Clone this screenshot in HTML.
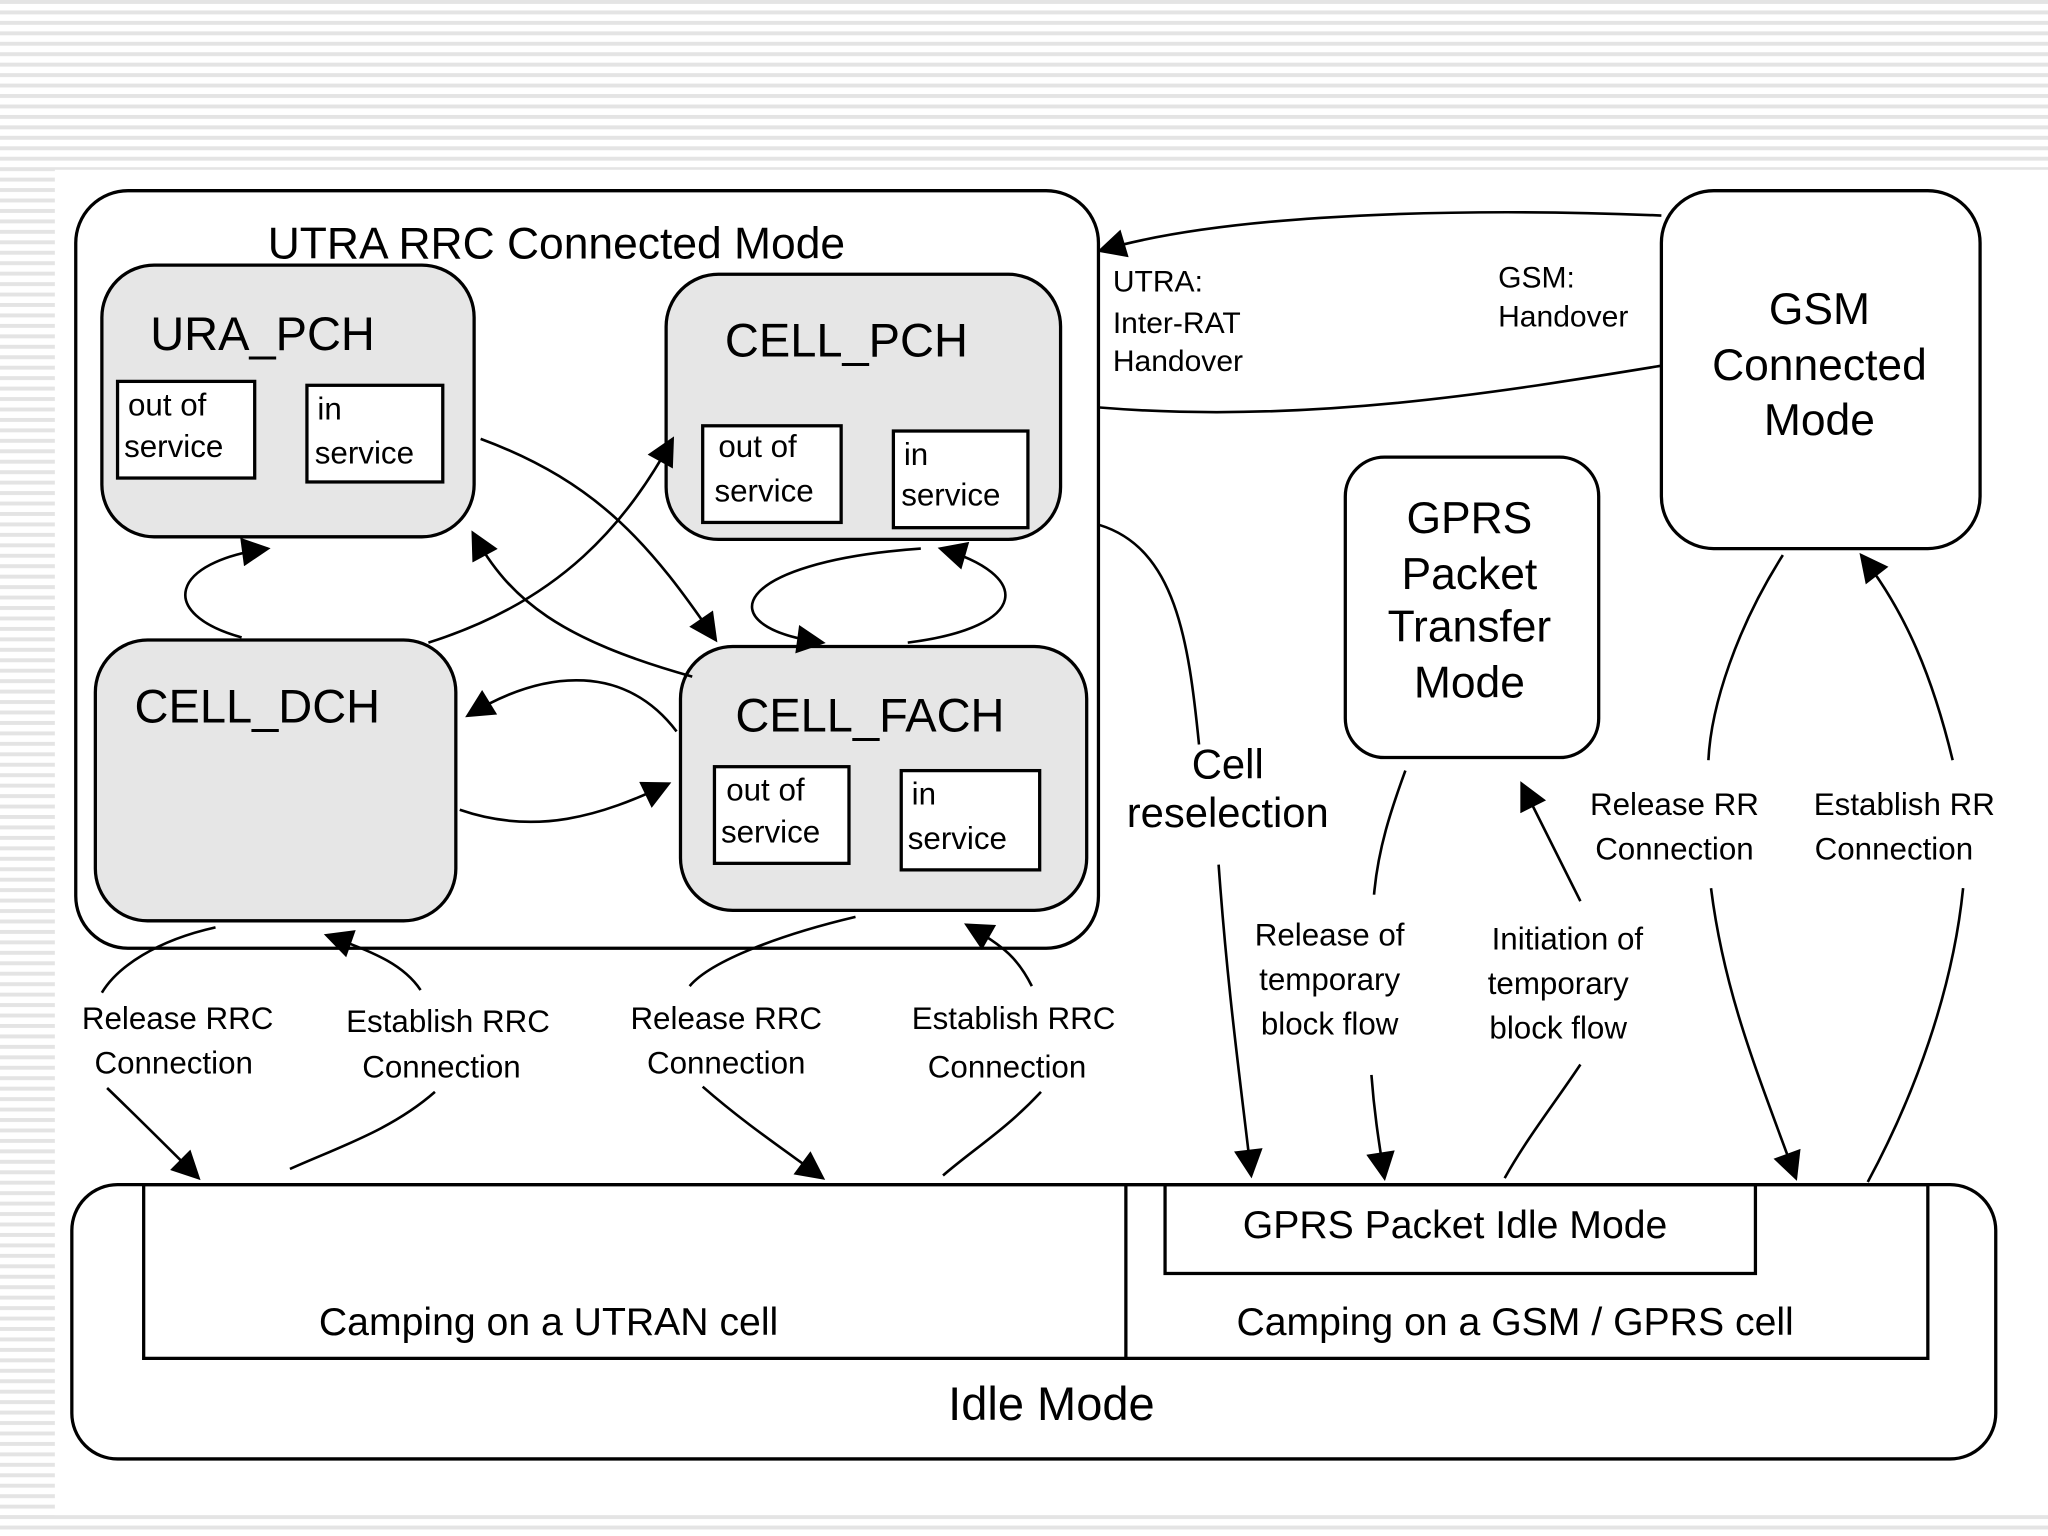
<!DOCTYPE html>
<html><head><meta charset="utf-8"><style>
html,body{margin:0;padding:0;background:#fff}
svg{display:block}
text{font-family:"Liberation Sans",sans-serif;fill:#000}
.s{font-family:"Liberation Serif",serif}
</style></head><body>
<svg width="2048" height="1536" viewBox="0 0 1568 1176" xmlns="http://www.w3.org/2000/svg">
<defs>
<pattern id="st" width="8" height="8" patternUnits="userSpaceOnUse">
<rect width="8" height="8" fill="#fff"/><rect y="0" width="8" height="3" fill="#e4e4e4"/></pattern>
<marker id="a" viewBox="0 0 10 10" refX="9" refY="5" markerWidth="8" markerHeight="8" orient="auto" markerUnits="userSpaceOnUse">
<path d="M0,0 L10,5 L0,10 z" fill="#000"/></marker>
<marker id="b" viewBox="0 0 10 10" refX="9" refY="5" markerWidth="26" markerHeight="22" orient="auto" markerUnits="userSpaceOnUse">
<path d="M0,0 L10,5 L0,10 z" fill="#000"/></marker>
</defs>
<rect width="1568" height="1176" fill="url(#st)"/>
<rect x="42" y="130" width="1526" height="1030" fill="#fff"/>
<g fill="none" stroke="#000" stroke-width="2.5">
<rect x="58" y="146" width="783" height="580" rx="40"/>
<rect x="78" y="203" width="285" height="208" rx="40" fill="#e6e6e6"/>
<rect x="510" y="210" width="302" height="203" rx="40" fill="#e6e6e6"/>
<rect x="73" y="490" width="276" height="215" rx="40" fill="#e6e6e6"/>
<rect x="521" y="495" width="311" height="202" rx="40" fill="#e6e6e6"/>
<rect x="90" y="292" width="105" height="74" fill="#fff"/>
<rect x="235" y="295" width="104" height="74" fill="#fff"/>
<rect x="538" y="326" width="106" height="74" fill="#fff"/>
<rect x="684" y="330" width="103" height="74" fill="#fff"/>
<rect x="547" y="587" width="103" height="74" fill="#fff"/>
<rect x="690" y="590" width="106" height="76" fill="#fff"/>
<rect x="1272" y="146" width="244" height="274" rx="40"/>
<rect x="1030" y="350" width="194" height="230" rx="30"/>
<rect x="55" y="907" width="1473" height="210" rx="35"/>
<rect x="110" y="907" width="1366" height="133"/>
<line x1="862" y1="907" x2="862" y2="1040"/>
<rect x="892" y="907" width="452" height="68"/>
</g>
<g fill="none" stroke="#000" stroke-width="2">
<!-- URA_PCH <-> CELL_DCH -->
<path d="M185,488 C120,470 130,430 205,420" marker-end="url(#b)"/>
<!-- CELL_PCH loop -->
<path d="M695,492 C790,480 790,440 720,420" marker-end="url(#b)"/>
<path d="M705,420 C560,430 540,480 630,492" marker-end="url(#b)"/>
<!-- URA_PCH -> CELL_FACH -->
<path d="M368,336 C460,370 500,420 548,490" marker-end="url(#b)"/>
<!-- CELL_FACH -> URA_PCH -->
<path d="M530,518 C430,490 390,460 362,408" marker-end="url(#b)"/>
<!-- CELL_DCH -> CELL_PCH -->
<path d="M328,492 C430,460 480,400 515,336" marker-end="url(#b)"/>
<!-- FACH -> DCH -->
<path d="M518,560 C480,510 420,510 358,548" marker-end="url(#b)"/>
<!-- DCH -> FACH -->
<path d="M352,620 C410,640 460,625 512,600" marker-end="url(#b)"/>
<!-- GSM -> UTRA -->
<path d="M1272,165 C1150,160 950,160 842,192" marker-end="url(#b)"/>
<path d="M842,312 C1000,325 1150,300 1272,280"/>
<!-- Cell reselection -->
<path d="M842,402 C900,420 910,490 918,570"/>
<path d="M933,662 C940,760 950,830 958,900" marker-end="url(#b)"/>
<!-- UTRAN release/establish -->
<path d="M165,710 C120,720 90,740 78,760"/>
<path d="M82,833 C110,860 130,880 152,902" marker-end="url(#b)"/>
<path d="M322,758 C310,740 290,730 250,716" marker-end="url(#b)"/>
<path d="M333,836 C300,865 260,878 222,895"/>
<path d="M655,702 C600,715 545,735 528,755"/>
<path d="M538,832 C570,860 600,880 630,902" marker-end="url(#b)"/>
<path d="M790,755 C780,735 770,725 740,708" marker-end="url(#b)"/>
<path d="M797,836 C770,865 745,880 722,900"/>
<!-- GPRS -->
<path d="M1076,590 C1065,620 1055,650 1052,685"/>
<path d="M1050,823 C1052,850 1055,870 1060,902" marker-end="url(#b)"/>
<path d="M1210,690 C1195,660 1180,630 1165,600" marker-end="url(#b)"/>
<path d="M1210,815 C1190,845 1170,870 1152,902"/>
<!-- GSM -->
<path d="M1365,425 C1330,480 1310,540 1308,582"/>
<path d="M1310,680 C1320,760 1345,820 1375,902" marker-end="url(#b)"/>
<path d="M1495,582 C1480,520 1460,470 1425,425" marker-end="url(#b)"/>
<path d="M1503,680 C1495,760 1465,840 1430,905"/>
</g>
<text x="205" y="198" font-size="34">UTRA RRC Connected Mode</text>
<text x="115" y="268" font-size="36">URA_PCH</text>
<text x="555" y="273" font-size="36">CELL_PCH</text>
<text x="103" y="553" font-size="36">CELL_DCH</text>
<text x="563" y="560" font-size="36">CELL_FACH</text>
<g font-size="24">
<text x="98" y="318">out of</text><text x="95" y="350">service</text>
<text x="243" y="321">in</text><text x="241" y="355">service</text>
<text x="550" y="350">out of</text><text x="547" y="384">service</text>
<text x="692" y="356">in</text><text x="690" y="387">service</text>
<text x="556" y="613">out of</text><text x="552" y="645">service</text>
<text x="698" y="616">in</text><text x="695" y="650">service</text>
</g>
<g font-size="34" text-anchor="middle" class="s">
<text x="1393" y="248" font-family="Liberation Sans">GSM</text>
<text x="1393" y="291" font-family="Liberation Sans">Connected</text>
<text x="1393" y="333" font-family="Liberation Sans">Mode</text>
<text x="1125" y="408">GPRS</text><text x="1125" y="451">Packet</text>
<text x="1125" y="491">Transfer</text><text x="1125" y="534">Mode</text>
</g>
<g font-size="23">
<text x="852" y="223">UTRA:</text><text x="852" y="255">Inter-RAT</text><text x="852" y="284">Handover</text>
<text x="1147" y="220">GSM:</text><text x="1147" y="250">Handover</text>
</g>
<text x="940" y="596" font-size="32" text-anchor="middle">Cell</text>
<text x="940" y="633" font-size="32" text-anchor="middle">reselection</text>
<g font-size="24" text-anchor="middle">
<text x="136" y="788">Release RRC</text><text x="133" y="822">Connection</text>
<text x="343" y="790">Establish RRC</text><text x="338" y="825">Connection</text>
<text x="556" y="788">Release RRC</text><text x="556" y="822">Connection</text>
<text x="776" y="788">Establish RRC</text><text x="771" y="825">Connection</text>
</g>
<g font-size="24" class="s" text-anchor="middle">
<text x="1018" y="724">Release of</text><text x="1018" y="758">temporary</text><text x="1018" y="792">block flow</text>
<text x="1200" y="727">Initiation of</text><text x="1193" y="761">temporary</text><text x="1193" y="795">block flow</text>
<text x="1282" y="624">Release RR</text><text x="1282" y="658">Connection</text>
<text x="1458" y="624">Establish RR</text><text x="1450" y="658">Connection</text>
</g>
<text x="1114" y="948" font-size="30" text-anchor="middle">GPRS Packet Idle Mode</text>
<text x="420" y="1022" font-size="30" text-anchor="middle">Camping on a UTRAN cell</text>
<text x="1160" y="1022" font-size="30" text-anchor="middle">Camping on a GSM / GPRS cell</text>
<text x="805" y="1087" font-size="36" text-anchor="middle">Idle Mode</text>
</svg>
</body></html>
